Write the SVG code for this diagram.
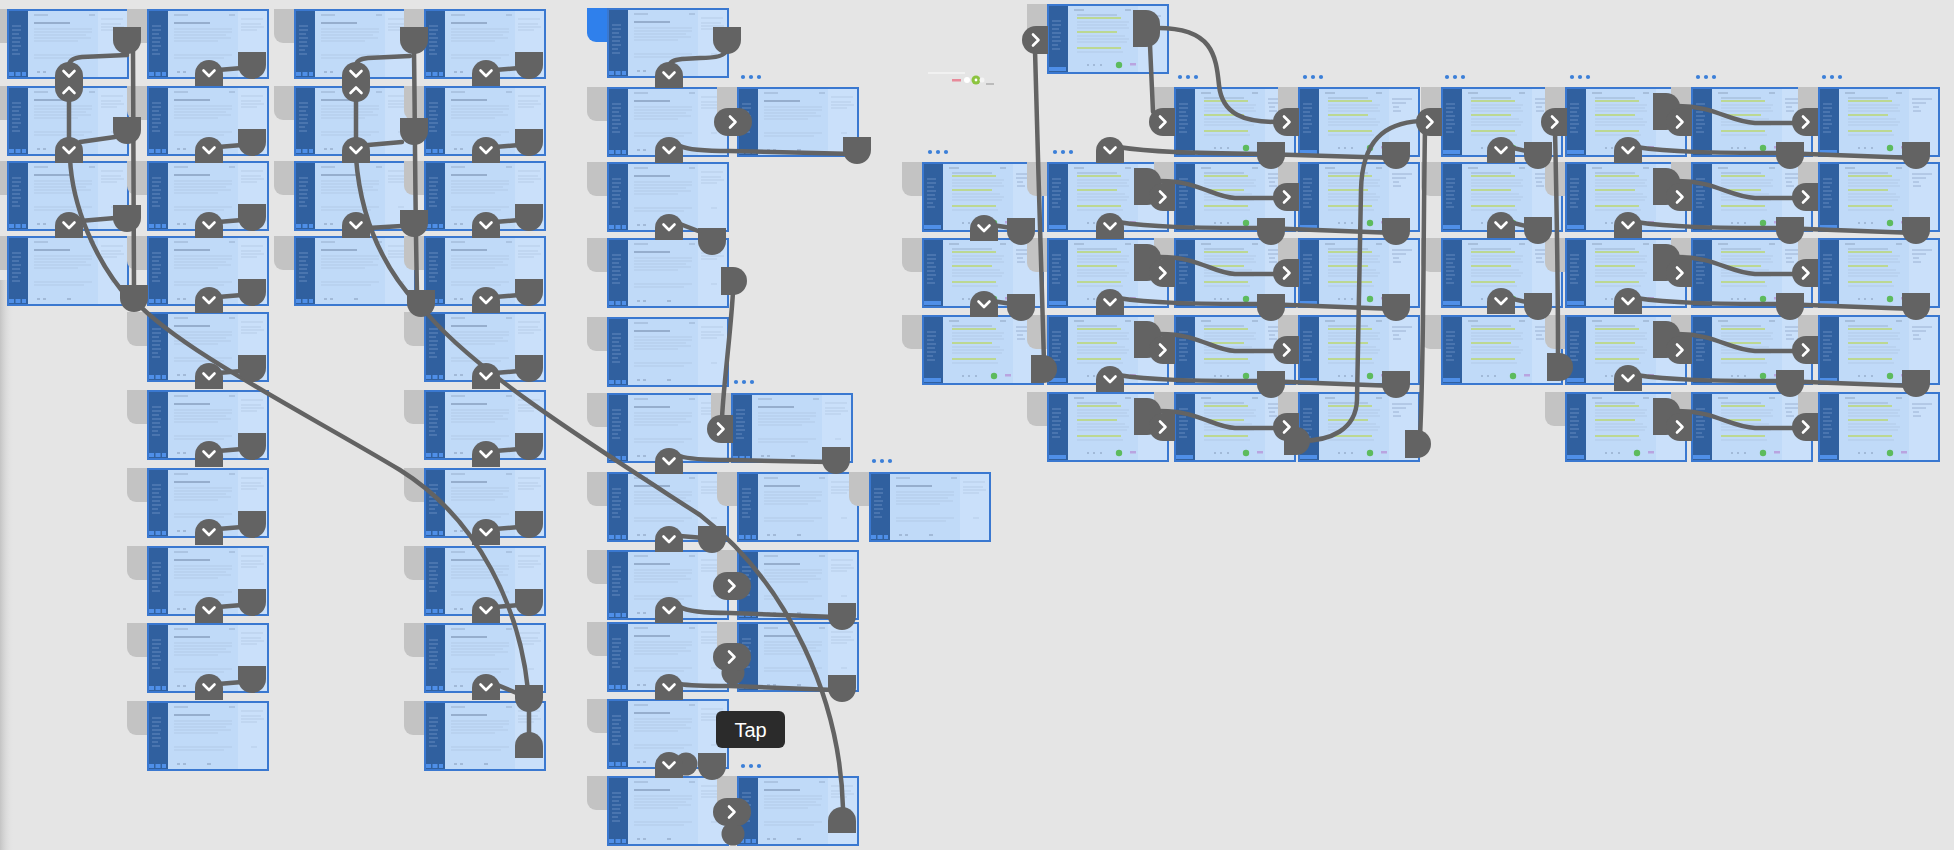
<svg xmlns="http://www.w3.org/2000/svg" width="1954" height="850" viewBox="0 0 1954 850">
<style>
.ln{fill:none;stroke:#636363;stroke-width:4.5;stroke-linecap:round;stroke-linejoin:round}
.tab{fill:#c3c3c3}
.tabb{fill:#2f80ec}
.dot{fill:#3b7fd8}
.tip{font-family:"Liberation Sans",Arial,sans-serif;font-size:20px;fill:#ffffff}
</style>
<defs>
<linearGradient id="edge" x1="0" x2="1" y1="0" y2="0"><stop offset="0" stop-color="#c4c4c4"/><stop offset="1" stop-color="#e5e5e5" stop-opacity="0"/></linearGradient>
<path id="tab" d="M0,0H24V34H9A9,9 0 0 1 0,25Z"/>
<g id="fr">
<rect width="122" height="70" fill="#c0daf8"/>
<rect x="91" y="2" width="29" height="66" fill="#cae0fa"/>
<rect width="21" height="70" fill="#30609f"/>
<path d="M5,17h9M5,21h9M5,25h7M5,29h9M5,33h8M5,37h9M5,41h6M5,45h8" stroke="#7d9fcf" stroke-width="0.7"/>
<rect x="2" y="63" width="5" height="4" fill="#4f8fe8"/><rect x="8.5" y="63" width="5" height="4" fill="#4f8fe8"/><rect x="15" y="63" width="4" height="4" fill="#4f8fe8"/>
<path d="M27,6h14M82,6h6" stroke="#8ea3c0" stroke-width="0.8"/>
<path d="M27,14h36" stroke="#6d82a2" stroke-width="1.2"/>
<path d="M27,20h58M27,23h58M27,26h52M27,29h57M27,32h44M27,46h58M27,49h50" stroke="#a9bfdc" stroke-width="0.6"/>
<path d="M94,10h22M94,15h20M94,18h23M94,21h16M104,46h6" stroke="#a9bfdc" stroke-width="0.6"/>
<path d="M30,63h3M36,63h3M60,63h4" stroke="#7d92b0" stroke-width="0.9"/>
<rect x="1" y="1" width="120" height="68" fill="none" stroke="#3a78d0" stroke-width="2"/>
</g>
<g id="frr">
<rect width="122" height="70" fill="#c0daf8"/>
<rect x="91" y="2" width="29" height="66" fill="#cae0fa"/>
<rect width="21" height="70" fill="#30609f"/>
<path d="M5,17h9M5,21h9M5,25h7M5,29h9M5,33h8M5,37h9M5,41h6M5,45h8" stroke="#7d9fcf" stroke-width="0.7"/>
<rect x="2" y="63" width="17" height="4" fill="#4f8fe8"/>
<path d="M27,6h10M78,6h6" stroke="#8ea3c0" stroke-width="1.1"/>
<path d="M30,11h40" stroke="#8ea3c0" stroke-width="0.7"/>
<path d="M30,14h44M30,28h40M30,44h44" stroke="#bcd893" stroke-width="1.8"/>
<path d="M30,18h52M30,21h50M30,24h52M30,32h48M30,35h52M30,38h50M30,48h46" stroke="#a9bfdc" stroke-width="0.6"/>
<path d="M94,12h20M94,16h14M95,20h6M95,24h8" stroke="#8fa6c8" stroke-width="0.8"/>
<path d="M40,61h2M46,61h2M53,61h2" stroke="#7d92b0" stroke-width="0.9"/>
<circle cx="72" cy="61" r="3.2" fill="#5dbb5d"/>
<rect x="83" y="59" width="6" height="2.5" fill="#b9a4e0"/>
<rect x="1" y="1" width="120" height="68" fill="none" stroke="#3a78d0" stroke-width="2"/>
</g>
<g id="vb"><path fill="#636363" d="M0,26V14A14,14 0 0 1 28,14V26Z"/><path fill="none" stroke="#fff" stroke-width="2.6" stroke-linecap="round" stroke-linejoin="round" d="M8.5,10.5L14,16L19.5,10.5"/></g>
<path id="tg" fill="#636363" d="M0,26V14A14,14 0 0 1 28,14V26Z"/>
<path id="db" fill="#636363" d="M0,0H28V13A14,14 0 0 1 0,13Z"/>
<path id="dr" fill="#636363" d="M0,0H13A14,14 0 0 1 27,14V23A14,14 0 0 1 13,37H0Z"/>
<path id="dr2" fill="#636363" d="M0,0H12A14,14 0 0 1 12,28H0Z"/>
<g id="gt"><path fill="#636363" d="M26,0H14A14,14 0 0 0 14,28H26Z"/><path fill="none" stroke="#fff" stroke-width="2.6" stroke-linecap="round" stroke-linejoin="round" d="M11,8.5L16.5,14L11,19.5"/></g>
<g id="st"><rect fill="#636363" width="38" height="28" rx="14"/><path fill="none" stroke="#fff" stroke-width="2.6" stroke-linecap="round" stroke-linejoin="round" d="M16,8.5L21.5,14L16,19.5"/></g>
<g id="dbl"><rect fill="#636363" width="28" height="40" rx="14"/><path fill="none" stroke="#fff" stroke-width="2.6" stroke-linecap="round" stroke-linejoin="round" d="M8.5,9L14,14.5L19.5,9M8.5,31L14,25.5L19.5,31"/></g>
</defs>
<rect width="1954" height="850" fill="#e5e5e5"/>
<rect x="0" y="280" width="14" height="570" fill="url(#edge)"/>

<g id="frames">
<g id="a0"><use href="#tab" class="tab" x="-13" y="9"/><use href="#fr" x="7" y="9"/></g>
<g id="a1"><use href="#tab" class="tab" x="-13" y="86"/><use href="#fr" x="7" y="86"/></g>
<g id="a2"><use href="#tab" class="tab" x="-13" y="161"/><use href="#fr" x="7" y="161"/></g>
<g id="a3"><use href="#tab" class="tab" x="-13" y="236"/><use href="#fr" x="7" y="236"/></g>
<g id="b0"><use href="#tab" class="tab" x="127" y="9"/><use href="#fr" x="147" y="9"/></g>
<g id="b1"><use href="#tab" class="tab" x="127" y="86"/><use href="#fr" x="147" y="86"/></g>
<g id="b2"><use href="#tab" class="tab" x="127" y="161"/><use href="#fr" x="147" y="161"/></g>
<g id="b3"><use href="#tab" class="tab" x="127" y="236"/><use href="#fr" x="147" y="236"/></g>
<g id="b4"><use href="#tab" class="tab" x="127" y="312"/><use href="#fr" x="147" y="312"/></g>
<g id="b5"><use href="#tab" class="tab" x="127" y="390"/><use href="#fr" x="147" y="390"/></g>
<g id="b6"><use href="#tab" class="tab" x="127" y="468"/><use href="#fr" x="147" y="468"/></g>
<g id="b7"><use href="#tab" class="tab" x="127" y="546"/><use href="#fr" x="147" y="546"/></g>
<g id="b8"><use href="#tab" class="tab" x="127" y="623"/><use href="#fr" x="147" y="623"/></g>
<g id="b9"><use href="#tab" class="tab" x="127" y="701"/><use href="#fr" x="147" y="701"/></g>
<g id="c0"><use href="#tab" class="tab" x="274" y="9"/><use href="#fr" x="294" y="9"/></g>
<g id="c1"><use href="#tab" class="tab" x="274" y="86"/><use href="#fr" x="294" y="86"/></g>
<g id="c2"><use href="#tab" class="tab" x="274" y="161"/><use href="#fr" x="294" y="161"/></g>
<g id="c3"><use href="#tab" class="tab" x="274" y="236"/><use href="#fr" x="294" y="236"/></g>
<g id="d0"><use href="#tab" class="tab" x="404" y="9"/><use href="#fr" x="424" y="9"/></g>
<g id="d1"><use href="#tab" class="tab" x="404" y="86"/><use href="#fr" x="424" y="86"/></g>
<g id="d2"><use href="#tab" class="tab" x="404" y="161"/><use href="#fr" x="424" y="161"/></g>
<g id="d3"><use href="#tab" class="tab" x="404" y="236"/><use href="#fr" x="424" y="236"/></g>
<g id="d4"><use href="#tab" class="tab" x="404" y="312"/><use href="#fr" x="424" y="312"/></g>
<g id="d5"><use href="#tab" class="tab" x="404" y="390"/><use href="#fr" x="424" y="390"/></g>
<g id="d6"><use href="#tab" class="tab" x="404" y="468"/><use href="#fr" x="424" y="468"/></g>
<g id="d7"><use href="#tab" class="tab" x="404" y="546"/><use href="#fr" x="424" y="546"/></g>
<g id="d8"><use href="#tab" class="tab" x="404" y="623"/><use href="#fr" x="424" y="623"/></g>
<g id="d9"><use href="#tab" class="tab" x="404" y="701"/><use href="#fr" x="424" y="701"/></g>
<g id="e0"><use href="#tab" class="tabb" x="587" y="8"/><use href="#fr" x="607" y="8"/></g>
<g id="e1"><use href="#tab" class="tab" x="587" y="87"/><use href="#fr" x="607" y="87"/></g>
<g id="e2"><use href="#tab" class="tab" x="587" y="162"/><use href="#fr" x="607" y="162"/></g>
<g id="e3"><use href="#tab" class="tab" x="587" y="238"/><use href="#fr" x="607" y="238"/></g>
<g id="e4"><use href="#tab" class="tab" x="587" y="317"/><use href="#fr" x="607" y="317"/></g>
<g id="e5"><use href="#tab" class="tab" x="587" y="393"/><use href="#fr" x="607" y="393"/></g>
<g id="e6"><use href="#tab" class="tab" x="587" y="472"/><use href="#fr" x="607" y="472"/></g>
<g id="e7"><use href="#tab" class="tab" x="587" y="550"/><use href="#fr" x="607" y="550"/></g>
<g id="e8"><use href="#tab" class="tab" x="587" y="622"/><use href="#fr" x="607" y="622"/></g>
<g id="e9"><use href="#tab" class="tab" x="587" y="699"/><use href="#fr" x="607" y="699"/></g>
<g id="e10"><use href="#tab" class="tab" x="587" y="776"/><use href="#fr" x="607" y="776"/></g>
<g id="f1"><use href="#tab" class="tab" x="717" y="87"/><use href="#fr" x="737" y="87"/></g>
<g id="f5"><use href="#tab" class="tab" x="711" y="393"/><use href="#fr" x="731" y="393"/></g>
<g id="f6"><use href="#tab" class="tab" x="717" y="472"/><use href="#fr" x="737" y="472"/></g>
<g id="f7"><use href="#tab" class="tab" x="717" y="550"/><use href="#fr" x="737" y="550"/></g>
<g id="f8"><use href="#tab" class="tab" x="717" y="622"/><use href="#fr" x="737" y="622"/></g>
<g id="f10"><use href="#tab" class="tab" x="717" y="776"/><use href="#fr" x="737" y="776"/></g>
<g id="g6"><use href="#tab" class="tab" x="849" y="472"/><use href="#fr" x="869" y="472"/></g>

<g id="top-i"><use href="#tab" class="tab" x="1027" y="4"/><use href="#frr" x="1047" y="4"/></g>
<g id="r0-j"><use href="#tab" class="tab" x="1154" y="87"/><use href="#frr" x="1174" y="87"/></g>
<g id="r0-k"><use href="#tab" class="tab" x="1278" y="87"/><use href="#frr" x="1298" y="87"/></g>
<g id="r0-l"><use href="#tab" class="tab" x="1421" y="87"/><use href="#frr" x="1441" y="87"/></g>
<g id="r0-m"><use href="#tab" class="tab" x="1545" y="87"/><use href="#frr" x="1565" y="87"/></g>
<g id="r0-n"><use href="#tab" class="tab" x="1671" y="87"/><use href="#frr" x="1691" y="87"/></g>
<g id="r0-o"><use href="#tab" class="tab" x="1798" y="87"/><use href="#frr" x="1818" y="87"/></g>
<g id="r1-h"><use href="#tab" class="tab" x="902" y="162"/><use href="#frr" x="922" y="162"/></g>
<g id="r1-i"><use href="#tab" class="tab" x="1027" y="162"/><use href="#frr" x="1047" y="162"/></g>
<g id="r1-j"><use href="#tab" class="tab" x="1154" y="162"/><use href="#frr" x="1174" y="162"/></g>
<g id="r1-k"><use href="#tab" class="tab" x="1278" y="162"/><use href="#frr" x="1298" y="162"/></g>
<g id="r1-l"><use href="#tab" class="tab" x="1421" y="162"/><use href="#frr" x="1441" y="162"/></g>
<g id="r1-m"><use href="#tab" class="tab" x="1545" y="162"/><use href="#frr" x="1565" y="162"/></g>
<g id="r1-n"><use href="#tab" class="tab" x="1671" y="162"/><use href="#frr" x="1691" y="162"/></g>
<g id="r1-o"><use href="#tab" class="tab" x="1798" y="162"/><use href="#frr" x="1818" y="162"/></g>
<g id="r2-h"><use href="#tab" class="tab" x="902" y="238"/><use href="#frr" x="922" y="238"/></g>
<g id="r2-i"><use href="#tab" class="tab" x="1027" y="238"/><use href="#frr" x="1047" y="238"/></g>
<g id="r2-j"><use href="#tab" class="tab" x="1154" y="238"/><use href="#frr" x="1174" y="238"/></g>
<g id="r2-k"><use href="#tab" class="tab" x="1278" y="238"/><use href="#frr" x="1298" y="238"/></g>
<g id="r2-l"><use href="#tab" class="tab" x="1421" y="238"/><use href="#frr" x="1441" y="238"/></g>
<g id="r2-m"><use href="#tab" class="tab" x="1545" y="238"/><use href="#frr" x="1565" y="238"/></g>
<g id="r2-n"><use href="#tab" class="tab" x="1671" y="238"/><use href="#frr" x="1691" y="238"/></g>
<g id="r2-o"><use href="#tab" class="tab" x="1798" y="238"/><use href="#frr" x="1818" y="238"/></g>
<g id="r3-h"><use href="#tab" class="tab" x="902" y="315"/><use href="#frr" x="922" y="315"/></g>
<g id="r3-i"><use href="#tab" class="tab" x="1027" y="315"/><use href="#frr" x="1047" y="315"/></g>
<g id="r3-j"><use href="#tab" class="tab" x="1154" y="315"/><use href="#frr" x="1174" y="315"/></g>
<g id="r3-k"><use href="#tab" class="tab" x="1278" y="315"/><use href="#frr" x="1298" y="315"/></g>
<g id="r3-l"><use href="#tab" class="tab" x="1421" y="315"/><use href="#frr" x="1441" y="315"/></g>
<g id="r3-m"><use href="#tab" class="tab" x="1545" y="315"/><use href="#frr" x="1565" y="315"/></g>
<g id="r3-n"><use href="#tab" class="tab" x="1671" y="315"/><use href="#frr" x="1691" y="315"/></g>
<g id="r3-o"><use href="#tab" class="tab" x="1798" y="315"/><use href="#frr" x="1818" y="315"/></g>
<g id="r4-i"><use href="#tab" class="tab" x="1027" y="392"/><use href="#frr" x="1047" y="392"/></g>
<g id="r4-j"><use href="#tab" class="tab" x="1154" y="392"/><use href="#frr" x="1174" y="392"/></g>
<g id="r4-k"><use href="#tab" class="tab" x="1278" y="392"/><use href="#frr" x="1298" y="392"/></g>
<g id="r4-m"><use href="#tab" class="tab" x="1545" y="392"/><use href="#frr" x="1565" y="392"/></g>
<g id="r4-n"><use href="#tab" class="tab" x="1671" y="392"/><use href="#frr" x="1691" y="392"/></g>
<g id="r4-o"><use href="#tab" class="tab" x="1798" y="392"/><use href="#frr" x="1818" y="392"/></g>
</g>

<g id="dots" class="dot">
<circle cx="743" cy="77" r="2.1"/><circle cx="751" cy="77" r="2.1"/><circle cx="759" cy="77" r="2.1"/>
<circle cx="736" cy="382" r="2.1"/><circle cx="744" cy="382" r="2.1"/><circle cx="752" cy="382" r="2.1"/>
<circle cx="874" cy="461" r="2.1"/><circle cx="882" cy="461" r="2.1"/><circle cx="890" cy="461" r="2.1"/>
<circle cx="743" cy="766" r="2.1"/><circle cx="751" cy="766" r="2.1"/><circle cx="759" cy="766" r="2.1"/>
<circle cx="930" cy="152" r="2.1"/><circle cx="938" cy="152" r="2.1"/><circle cx="946" cy="152" r="2.1"/>
<circle cx="1055" cy="152" r="2.1"/><circle cx="1063" cy="152" r="2.1"/><circle cx="1071" cy="152" r="2.1"/>
<circle cx="1180" cy="77" r="2.1"/><circle cx="1188" cy="77" r="2.1"/><circle cx="1196" cy="77" r="2.1"/>
<circle cx="1305" cy="77" r="2.1"/><circle cx="1313" cy="77" r="2.1"/><circle cx="1321" cy="77" r="2.1"/>
<circle cx="1447" cy="77" r="2.1"/><circle cx="1455" cy="77" r="2.1"/><circle cx="1463" cy="77" r="2.1"/>
<circle cx="1572" cy="77" r="2.1"/><circle cx="1580" cy="77" r="2.1"/><circle cx="1588" cy="77" r="2.1"/>
<circle cx="1698" cy="77" r="2.1"/><circle cx="1706" cy="77" r="2.1"/><circle cx="1714" cy="77" r="2.1"/>
<circle cx="1824" cy="77" r="2.1"/><circle cx="1832" cy="77" r="2.1"/><circle cx="1840" cy="77" r="2.1"/>
</g>

<g id="mini">
<path d="M928,73H965" stroke="#f4f4f4" stroke-width="1.5"/>
<rect x="952" y="79" width="9" height="2.5" fill="#e88a9a"/>
<circle cx="967" cy="80" r="3" fill="#ffffff"/>
<circle cx="976" cy="80" r="4.5" fill="#8cc43f"/>
<circle cx="976" cy="80" r="1.4" fill="#ffffff"/>
<circle cx="982" cy="80" r="2.5" fill="#f4f4f4"/>
<rect x="986" y="83" width="8" height="2" fill="#bbbbbb"/>
</g>

<g id="connectors">
<g class="ln">
<path d="M133,50 C134,120 134,200 134,290"/>
<path d="M127,55 L82,57 Q69,58 69,66"/>
<path d="M69,100 L69,139"/>
<path d="M115,137 L80,142"/>
<path d="M115,218 L80,221"/>
<path d="M70,158 C72,205 95,262 130,300"/>
<path d="M134,300 C180,350 300,410 400,470 C480,520 520,610 528,690"/>
<path d="M218,70 L242,68"/><path d="M218,147 L242,145"/><path d="M218,222 L242,220"/><path d="M218,297 L242,295"/><path d="M218,373 L242,371"/><path d="M218,451 L242,449"/><path d="M218,529 L242,527"/><path d="M218,607 L242,605"/><path d="M218,684 L242,682"/>
<path d="M414,52 C415,120 415,200 417,292"/>
<path d="M410,56 L368,58 Q356,59 356,66"/>
<path d="M356,100 L356,139"/>
<path d="M402,142 L368,145"/>
<path d="M402,226 L368,228"/>
<path d="M356,158 C360,210 378,262 418,305"/>
<path d="M420,305 C470,370 600,450 700,515 C790,585 840,700 843,808"/>
<path d="M495,70 L519,68"/><path d="M495,147 L519,145"/><path d="M495,222 L519,220"/><path d="M495,297 L519,295"/><path d="M495,373 L519,371"/><path d="M495,451 L519,449"/><path d="M495,529 L519,527"/><path d="M495,607 L519,605"/><path d="M495,684 L519,694"/>
<path d="M529,708 L529,736"/>
<path d="M726,51 Q724,58 700,58 L682,59 Q670,60 669,66"/>
<path d="M680,146 Q690,151 730,151 L855,154"/>
<path d="M680,224 L706,234"/>
<path d="M733,292 C730,340 724,380 722,418"/>
<path d="M680,456 Q690,460 730,460 L830,462"/>
<path d="M680,536 L704,538"/>
<path d="M680,607 Q690,613 730,613 L835,617"/>
<path d="M680,684 Q690,686 730,686 L835,690"/>
<path d="M1035,50 C1038,150 1041,280 1044,362"/>
<path d="M1150,45 L1153,112"/>
<path d="M1158,28 C1212,28 1216,55 1219,85 C1222,115 1245,122 1277,122"/>
<path d="M1118,147 C1150,152 1190,153 1262,154 L1395,158"/>
<path d="M1425,128 C1423,250 1424,360 1420,436"/>
<path d="M1420,121 C1385,123 1362,140 1361,190 L1357,400 C1356,430 1330,441 1300,441"/>
<path d="M1555,130 C1557,220 1558,300 1558,358"/>
<path d="M1509,147 L1530,152"/>
<path d="M1678,106 C1715,106 1730,122 1755,123 L1797,123"/>
<path d="M1636,147 C1670,152 1710,153 1780,153 L1915,158"/>
<path d="M992,225 L1012,228"/>
<path d="M1160,181 C1200,181 1212,197 1235,198 L1278,198"/>
<path d="M1118,222 C1150,227 1190,228 1262,228 L1395,233"/>
<path d="M1509,222 L1530,227"/>
<path d="M1678,181 C1715,181 1730,197 1755,198 L1797,198"/>
<path d="M1636,222 C1670,227 1710,228 1780,228 L1915,233"/>
<path d="M992,301 L1012,304"/>
<path d="M1160,257 C1200,257 1212,273 1235,274 L1278,274"/>
<path d="M1118,298 C1150,303 1190,304 1262,304 L1395,309"/>
<path d="M1509,298 L1530,303"/>
<path d="M1678,257 C1715,257 1730,273 1755,274 L1797,274"/>
<path d="M1636,298 C1670,303 1710,304 1780,304 L1915,309"/>
<path d="M1160,334 C1200,334 1212,350 1235,351 L1278,351"/>
<path d="M1118,375 C1150,380 1190,381 1262,381 L1395,386"/>
<path d="M1678,334 C1715,334 1730,350 1755,351 L1797,351"/>
<path d="M1636,375 C1670,380 1710,381 1780,381 L1915,386"/>
<path d="M1160,411 C1200,411 1212,427 1235,428 L1278,428"/>
<path d="M1678,411 C1715,411 1730,427 1755,428 L1797,428"/>
</g>
<g id="badges">
<use href="#dbl" x="55" y="62"/>
<use href="#vb" x="55" y="137"/><use href="#vb" x="55" y="212"/>
<use href="#db" x="113" y="27"/><use href="#db" x="113" y="117"/><use href="#db" x="113" y="205"/><use href="#db" x="120" y="285"/>
<use href="#vb" x="195" y="60"/><use href="#vb" x="195" y="137"/><use href="#vb" x="195" y="212"/><use href="#vb" x="195" y="287"/><use href="#vb" x="195" y="363"/><use href="#vb" x="195" y="441"/><use href="#vb" x="195" y="519"/><use href="#vb" x="195" y="597"/><use href="#vb" x="195" y="674"/>
<use href="#db" x="238" y="52"/><use href="#db" x="238" y="129"/><use href="#db" x="238" y="204"/><use href="#db" x="238" y="279"/><use href="#db" x="238" y="355"/><use href="#db" x="238" y="433"/><use href="#db" x="238" y="511"/><use href="#db" x="238" y="589"/><use href="#db" x="238" y="666"/>
<use href="#dbl" x="342" y="62"/>
<use href="#vb" x="342" y="137"/><use href="#vb" x="342" y="212"/>
<use href="#db" x="400" y="27"/><use href="#db" x="400" y="118"/><use href="#db" x="400" y="210"/><use href="#db" x="407" y="290"/>
<use href="#vb" x="472" y="60"/><use href="#vb" x="472" y="137"/><use href="#vb" x="472" y="212"/><use href="#vb" x="472" y="287"/><use href="#vb" x="472" y="363"/><use href="#vb" x="472" y="441"/><use href="#vb" x="472" y="519"/><use href="#vb" x="472" y="597"/><use href="#vb" x="472" y="674"/>
<use href="#db" x="515" y="52"/><use href="#db" x="515" y="129"/><use href="#db" x="515" y="204"/><use href="#db" x="515" y="279"/><use href="#db" x="515" y="355"/><use href="#db" x="515" y="433"/><use href="#db" x="515" y="511"/><use href="#db" x="515" y="589"/><use href="#db" x="515" y="685"/>
<use href="#tg" x="515" y="732"/>
<use href="#db" x="713" y="27"/><use href="#vb" x="655" y="62"/>
<use href="#st" x="714" y="108"/><use href="#vb" x="655" y="137"/><use href="#db" x="843" y="137"/>
<use href="#vb" x="655" y="214"/><use href="#db" x="698" y="228"/>
<use href="#dr2" x="721" y="267"/>
<use href="#gt" x="707" y="415"/><use href="#vb" x="655" y="448"/><use href="#db" x="822" y="447"/>
<use href="#vb" x="655" y="526"/><use href="#db" x="698" y="526"/>
<use href="#st" x="713" y="572"/><use href="#vb" x="655" y="597"/><use href="#db" x="828" y="603"/>
<circle cx="733" cy="673" r="11.5" fill="#636363"/><use href="#st" x="713" y="643"/><use href="#vb" x="655" y="674"/><use href="#db" x="828" y="675"/>
<circle cx="686" cy="764" r="11.5" fill="#636363"/><use href="#vb" x="655" y="752"/><use href="#db" x="698" y="753"/>
<circle cx="733" cy="834" r="11.5" fill="#636363"/><use href="#st" x="713" y="798"/><use href="#tg" x="828" y="807"/>
<use href="#gt" x="1022" y="26"/><use href="#dr" x="1133" y="10"/>
<use href="#dr2" x="1031" y="355"/>
<use href="#gt" x="1149" y="108"/><use href="#gt" x="1273" y="108"/>
<use href="#vb" x="1096" y="137"/><use href="#db" x="1257" y="142"/><use href="#db" x="1382" y="142"/>
<use href="#gt" x="1416" y="108"/><use href="#gt" x="1541" y="108"/>
<use href="#dr2" x="1284" y="427"/><use href="#dr2" x="1405" y="430"/><use href="#dr2" x="1547" y="353"/>
<use href="#vb" x="1487" y="137"/><use href="#db" x="1524" y="142"/>
<use href="#dr" x="1653" y="93"/><use href="#gt" x="1666" y="108"/><use href="#gt" x="1792" y="108"/>
<use href="#vb" x="1614" y="137"/><use href="#db" x="1776" y="142"/><use href="#db" x="1902" y="142"/>
<use href="#vb" x="970" y="215"/><use href="#db" x="1007" y="218"/>
<use href="#dr" x="1134" y="168"/><use href="#gt" x="1149" y="183"/><use href="#gt" x="1273" y="183"/>
<use href="#vb" x="1096" y="213"/><use href="#db" x="1257" y="218"/><use href="#db" x="1382" y="218"/>
<use href="#vb" x="1487" y="212"/><use href="#db" x="1524" y="217"/>
<use href="#dr" x="1653" y="168"/><use href="#gt" x="1666" y="183"/><use href="#gt" x="1792" y="183"/>
<use href="#vb" x="1614" y="212"/><use href="#db" x="1776" y="217"/><use href="#db" x="1902" y="217"/>
<use href="#vb" x="970" y="291"/><use href="#db" x="1007" y="294"/>
<use href="#dr" x="1134" y="244"/><use href="#gt" x="1149" y="259"/><use href="#gt" x="1273" y="259"/>
<use href="#vb" x="1096" y="289"/><use href="#db" x="1257" y="294"/><use href="#db" x="1382" y="294"/>
<use href="#vb" x="1487" y="288"/><use href="#db" x="1524" y="293"/>
<use href="#dr" x="1653" y="244"/><use href="#gt" x="1666" y="259"/><use href="#gt" x="1792" y="259"/>
<use href="#vb" x="1614" y="288"/><use href="#db" x="1776" y="293"/><use href="#db" x="1902" y="293"/>
<use href="#dr" x="1134" y="321"/><use href="#gt" x="1149" y="336"/><use href="#gt" x="1273" y="336"/>
<use href="#vb" x="1096" y="366"/><use href="#db" x="1257" y="371"/><use href="#db" x="1382" y="371"/>
<use href="#dr" x="1653" y="321"/><use href="#gt" x="1666" y="336"/><use href="#gt" x="1792" y="336"/>
<use href="#vb" x="1614" y="365"/><use href="#db" x="1776" y="370"/><use href="#db" x="1902" y="370"/>
<use href="#dr" x="1134" y="398"/><use href="#gt" x="1149" y="413"/><use href="#gt" x="1273" y="413"/>
<use href="#dr" x="1653" y="398"/><use href="#gt" x="1666" y="413"/><use href="#gt" x="1792" y="413"/>
</g>
</g>

<g id="tap">
<rect x="716" y="711" width="69" height="37" rx="6" fill="#2b2b2b"/>
<text class="tip" x="750.5" y="737" text-anchor="middle">Tap</text>
</g>
</svg>
